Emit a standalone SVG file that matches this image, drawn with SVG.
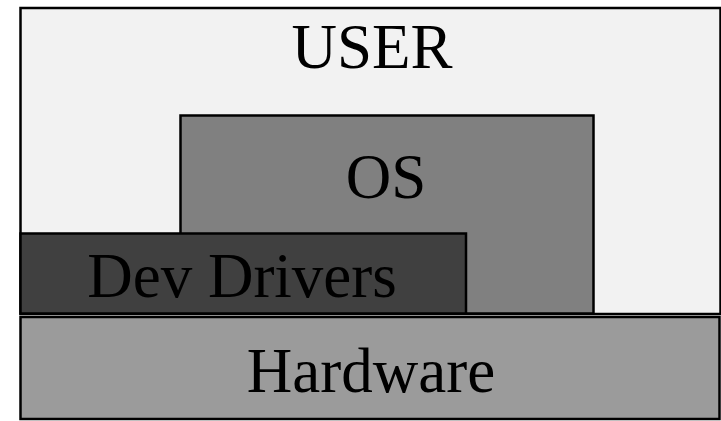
<svg xmlns="http://www.w3.org/2000/svg" width="721" height="421" viewBox="0 0 721 421">
<style>
.box{stroke:#000;stroke-width:2.5}
.lbl{font-family:"Liberation Serif","Times New Roman",serif;font-size:63px;fill:#000;text-anchor:middle}
</style>
<rect width="721" height="421" fill="#fff"/>
<g id="user">
<rect class="box" x="20.5" y="8" width="700" height="306" fill="#f2f2f2"/>
<text class="lbl" x="372" y="68">USER</text>
</g>
<g id="os">
<rect class="box" x="180.5" y="115.5" width="413" height="198" fill="#808080"/>
<text class="lbl" x="386" y="198">OS</text>
</g>
<g id="devdrivers">
<rect class="box" x="20.5" y="233.5" width="445.5" height="80" fill="#404040"/>
<text class="lbl" x="242" y="297">Dev Drivers</text>
</g>
<g id="hardware">
<rect class="box" x="20.5" y="317" width="699" height="102" fill="#9b9b9b"/>
<text class="lbl" x="371" y="392">Hardware</text>
</g>
<g id="connectors"/>
</svg>
